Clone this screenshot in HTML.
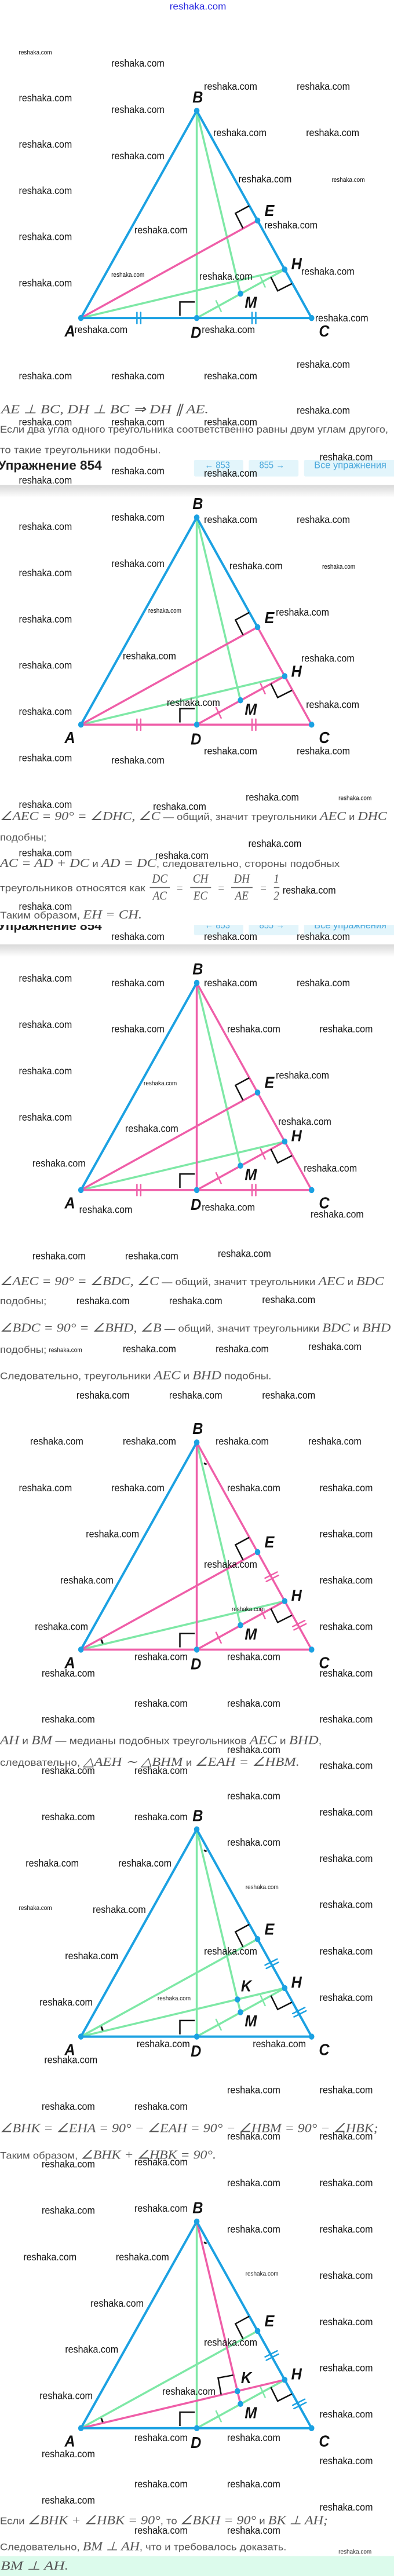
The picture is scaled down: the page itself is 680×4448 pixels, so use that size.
<!DOCTYPE html>
<html><head><meta charset="utf-8">
<style>
html,body{margin:0;padding:0;background:#fff;}
body{width:680px;height:4448px;position:relative;overflow:hidden;}
svg.b{position:absolute;left:0;width:680px;overflow:visible;}
line,polyline{vector-effect:non-scaling-stroke;}
.w{font-family:"Liberation Sans",sans-serif;font-size:37px;fill:#111;}
.ws{font-family:"Liberation Sans",sans-serif;font-size:23px;fill:#111;}
.t{font-family:"Liberation Sans",sans-serif;font-size:34px;fill:#555;}
.m{font-family:"Liberation Serif",serif;font-style:italic;font-size:44px;fill:#555;}
.mu{font-family:"Liberation Serif",serif;font-size:44px;fill:#555;}
.lb{font-family:"Liberation Sans",sans-serif;font-style:italic;font-weight:bold;font-size:58px;fill:#111;}
.bl{stroke:#1ba1e2;stroke-width:4;fill:none;stroke-linecap:round;}
.pk{stroke:#ef5ea8;stroke-width:3.5;fill:none;stroke-linecap:round;}
.gr{stroke:#7ee8a6;stroke-width:3.5;fill:none;stroke-linecap:round;}
.bk{stroke:#111;stroke-width:2.5;fill:none;}
.tk{stroke-width:2.5;}
.dot{fill:#1ba1e2;}
.nav{fill:#e3f5fb;}
.nt{font-family:"Liberation Sans",sans-serif;font-size:34px;fill:#4aa8dc;}
.h{font-family:"Liberation Sans",sans-serif;font-weight:bold;font-size:46px;fill:#222;}
</style></head><body>

<!-- BLOCK 0 : 0..750 -->
<svg class="b" style="top:0" height="750" viewBox="0 0 1568 1568" preserveAspectRatio="none">
<text x="675" y="35" font-family="Liberation Sans" font-size="34" fill="#2a2ae0" textLength="225" lengthAdjust="spacingAndGlyphs">reshaka.com</text>
<g transform="translate(0,400)">
 <line class="gr" x1="783" y1="0" x2="783" y2="748"/>
 <line class="gr" x1="783" y1="0" x2="957" y2="660"/>
 <line class="gr" x1="322" y1="748" x2="1133" y2="573"/>
 <line class="gr" x1="783" y1="748" x2="1133" y2="573"/>
 <line class="pk" x1="322" y1="748" x2="1025" y2="396"/>
 <line class="bl" x1="322" y1="748" x2="783" y2="0"/>
 <line class="bl" x1="783" y1="0" x2="1240" y2="748"/>
 <line class="bl" x1="322" y1="748" x2="1240" y2="748"/>
 <g class="bl tk"><line x1="545" y1="728" x2="545" y2="768"/><line x1="560" y1="728" x2="560" y2="768"/><line x1="1003" y1="728" x2="1003" y2="768"/><line x1="1018" y1="728" x2="1018" y2="768"/></g>
 <g class="gr tk"><line x1="860" y1="686" x2="880" y2="724"/><line x1="1037" y1="600" x2="1055" y2="636"/></g>
 <polyline class="bk" points="716,740 716,690 775,690"/>
 <polyline class="bk" points="992,343 937,370 967,424"/>
 <polyline class="bk" points="1078,600 1105,650 1162,624"/>
 <g class="dot"><circle cx="783" cy="0" r="11"/><circle cx="322" cy="748" r="11"/><circle cx="1240" cy="748" r="11"/><circle cx="783" cy="748" r="11"/><circle cx="1025" cy="396" r="11"/><circle cx="1133" cy="573" r="11"/><circle cx="957" cy="660" r="11"/></g>
 <g class="lb" dominant-baseline="central" text-anchor="middle"><text x="787" y="-50">B</text><text x="278" y="795">A</text><text x="780" y="800">D</text><text x="1290" y="795">C</text><text x="1072" y="360">E</text><text x="1180" y="552">H</text><text x="998" y="692">M</text></g>
</g>
<g dominant-baseline="central">
<text class="ws" x="75" y="190">reshaka.com</text><text class="w" x="443" y="228">reshaka.com</text><text class="w" x="812" y="312">reshaka.com</text><text class="w" x="1181" y="312">reshaka.com</text>
<text class="w" x="75" y="354">reshaka.com</text><text class="w" x="443" y="396">reshaka.com</text><text class="w" x="849" y="479">reshaka.com</text><text class="w" x="1218" y="479">reshaka.com</text>
<text class="w" x="75" y="521">reshaka.com</text><text class="w" x="443" y="563">reshaka.com</text><text class="w" x="949" y="646">reshaka.com</text><text class="ws" x="1320" y="650">reshaka.com</text>
<text class="w" x="75" y="688">reshaka.com</text><text class="w" x="535" y="830">reshaka.com</text><text class="w" x="1052" y="813">reshaka.com</text><text class="w" x="75" y="855">reshaka.com</text>
<text class="ws" x="443" y="993">reshaka.com</text><text class="w" x="793" y="998">reshaka.com</text><text class="w" x="1199" y="980">reshaka.com</text><text class="w" x="75" y="1022">reshaka.com</text>
<text class="w" x="1254" y="1148">reshaka.com</text><text class="w" x="296" y="1190">reshaka.com</text><text class="w" x="803" y="1190">reshaka.com</text><text class="w" x="1181" y="1316">reshaka.com</text>
<text class="w" x="75" y="1357">reshaka.com</text><text class="w" x="443" y="1357">reshaka.com</text><text class="w" x="812" y="1357">reshaka.com</text><text class="w" x="1181" y="1482">reshaka.com</text>
<text class="w" x="75" y="1524">reshaka.com</text><text class="w" x="443" y="1524">reshaka.com</text><text class="w" x="812" y="1524">reshaka.com</text>
</g>
<text class="m" x="5" y="1492" textLength="825" lengthAdjust="spacingAndGlyphs">AE <tspan class="mu">⊥</tspan> BC, DH <tspan class="mu">⊥</tspan> BC <tspan class="mu">⇒</tspan> DH <tspan class="mu">∥</tspan> AE.</text>
<text class="t" x="0" y="1562" textLength="1545" lengthAdjust="spacingAndGlyphs">Если два угла одного треугольника соответственно равны двум углам другого,</text>
</svg>

<!-- BLOCK 1 : 750..1500 -->
<svg class="b" style="top:750px" height="750" viewBox="0 0 1568 1568" preserveAspectRatio="none">
<defs><linearGradient id="sh" x1="0" y1="0" x2="0" y2="1"><stop offset="0" stop-color="#d8d8d8"/><stop offset="1" stop-color="#fff"/></linearGradient></defs>
<text class="t" x="0" y="68" textLength="640" lengthAdjust="spacingAndGlyphs">то такие треугольники подобны.</text>
<text class="h" x="-8" y="128" textLength="413" lengthAdjust="spacingAndGlyphs">Упражнение 854</text>
<rect class="nav" x="772" y="92" width="196" height="60" rx="6"/><rect class="nav" x="990" y="92" width="198" height="60" rx="6"/><rect class="nav" x="1210" y="92" width="370" height="60" rx="6"/>
<text class="nt" x="815" y="122">← 853</text><text class="nt" x="1032" y="122">855 →</text><text class="nt" x="1250" y="122" textLength="288" lengthAdjust="spacingAndGlyphs">Все упражнения</text>
<rect x="0" y="183" width="1568" height="45" fill="url(#sh)"/>
<g transform="translate(0,300)">
 <line class="gr" x1="783" y1="0" x2="783" y2="748"/>
 <line class="gr" x1="783" y1="0" x2="957" y2="660"/>
 <line class="gr" x1="322" y1="748" x2="1133" y2="573"/>
 <line class="pk" x1="783" y1="748" x2="1133" y2="573"/>
 <line class="pk" x1="322" y1="748" x2="1025" y2="396"/>
 <line class="pk" x1="1025" y1="396" x2="1240" y2="748"/>
 <line class="pk" x1="322" y1="748" x2="1240" y2="748"/>
 <line class="bl" x1="322" y1="748" x2="783" y2="0"/>
 <line class="bl" x1="783" y1="0" x2="1025" y2="396"/>
 <g class="pk tk"><line x1="545" y1="728" x2="545" y2="768"/><line x1="560" y1="728" x2="560" y2="768"/><line x1="1003" y1="728" x2="1003" y2="768"/><line x1="1018" y1="728" x2="1018" y2="768"/><line x1="860" y1="686" x2="880" y2="724"/><line x1="1037" y1="600" x2="1055" y2="636"/></g>
 <polyline class="bk" points="716,740 716,690 775,690"/>
 <polyline class="bk" points="992,343 937,370 967,424"/>
 <polyline class="bk" points="1078,600 1105,650 1162,624"/>
 <g class="dot"><circle cx="783" cy="0" r="11"/><circle cx="322" cy="748" r="11"/><circle cx="1240" cy="748" r="11"/><circle cx="783" cy="748" r="11"/><circle cx="1025" cy="396" r="11"/><circle cx="1133" cy="573" r="11"/><circle cx="957" cy="660" r="11"/></g>
 <g class="lb" dominant-baseline="central" text-anchor="middle"><text x="787" y="-50">B</text><text x="278" y="795">A</text><text x="780" y="800">D</text><text x="1290" y="795">C</text><text x="1072" y="362">E</text><text x="1180" y="555">H</text><text x="998" y="692">M</text></g>
</g>
<g dominant-baseline="central">
<text class="w" x="1272" y="82">reshaka.com</text><text class="w" x="443" y="132">reshaka.com</text><text class="w" x="812" y="141">reshaka.com</text><text class="w" x="75" y="166">reshaka.com</text>
<text class="w" x="443" y="300">reshaka.com</text><text class="w" x="812" y="308">reshaka.com</text><text class="w" x="1181" y="308">reshaka.com</text><text class="w" x="75" y="333">reshaka.com</text>
<text class="w" x="443" y="467">reshaka.com</text><text class="w" x="913" y="475">reshaka.com</text><text class="ws" x="1282" y="479">reshaka.com</text><text class="w" x="75" y="500">reshaka.com</text>
<text class="ws" x="590" y="637">reshaka.com</text><text class="w" x="1098" y="642">reshaka.com</text><text class="w" x="75" y="667">reshaka.com</text><text class="w" x="489" y="800">reshaka.com</text>
<text class="w" x="1199" y="809">reshaka.com</text><text class="w" x="75" y="834">reshaka.com</text><text class="w" x="664" y="968">reshaka.com</text><text class="w" x="1218" y="976">reshaka.com</text>
<text class="w" x="75" y="1001">reshaka.com</text><text class="w" x="812" y="1143">reshaka.com</text><text class="w" x="1181" y="1143">reshaka.com</text><text class="w" x="75" y="1168">reshaka.com</text>
<text class="w" x="443" y="1177">reshaka.com</text><text class="w" x="978" y="1310">reshaka.com</text><text class="ws" x="1347" y="1314">reshaka.com</text><text class="w" x="75" y="1336">reshaka.com</text>
<text class="w" x="609" y="1344">reshaka.com</text><text class="w" x="988" y="1478">reshaka.com</text><text class="w" x="75" y="1511">reshaka.com</text><text class="w" x="618" y="1520">reshaka.com</text>
</g>
<text class="t" x="0" y="1392" textLength="1540" lengthAdjust="spacingAndGlyphs"><tspan class="m">∠AEC = 90° = ∠DHC, ∠C</tspan> — общий, значит треугольники <tspan class="m">AEC</tspan> и <tspan class="m">DHC</tspan></text>
<text class="t" x="0" y="1467" textLength="185" lengthAdjust="spacingAndGlyphs">подобны;</text>
<text class="t" x="0" y="1562" textLength="1352" lengthAdjust="spacingAndGlyphs"><tspan class="m">AC = AD + DC</tspan> и <tspan class="m">AD = DC</tspan>, следовательно, стороны подобных</text>
</svg>

<!-- BLOCK 2 : 1500..2250 -->
<svg class="b" style="top:1500px" height="750" viewBox="0 0 1568 1568" preserveAspectRatio="none">
<defs><clipPath id="cp"><rect x="0" y="203" width="1568" height="40"/></clipPath><linearGradient id="sh2" x1="0" y1="0" x2="0" y2="1"><stop offset="0" stop-color="#d8d8d8"/><stop offset="1" stop-color="#fff"/></linearGradient></defs>
<text class="t" x="0" y="82" textLength="578" lengthAdjust="spacingAndGlyphs">треугольников относятся как</text>
<g class="m" text-anchor="middle"><text x="636" y="50">DC</text><text x="636" y="112">AC</text><text x="798" y="50">CH</text><text x="798" y="112">EC</text><text x="962" y="50">DH</text><text x="962" y="112">AE</text><text class="mu" x="1100" y="50">1</text><text class="mu" x="1100" y="112">2</text>
<text class="mu" x="715" y="85">=</text><text class="mu" x="880" y="85">=</text><text class="mu" x="1048" y="85">=</text></g>
<g stroke="#666" stroke-width="1.5"><line x1="596" y1="68" x2="676" y2="68"/><line x1="757" y1="68" x2="840" y2="68"/><line x1="920" y1="68" x2="1005" y2="68"/><line x1="1090" y1="68" x2="1112" y2="68"/></g>
<text class="t" x="0" y="180" textLength="565" lengthAdjust="spacingAndGlyphs">Таким образом, <tspan class="m">EH = CH.</tspan></text>
<g clip-path="url(#cp)">
<text class="h" x="-8" y="222" textLength="413" lengthAdjust="spacingAndGlyphs">Упражнение 854</text>
<rect class="nav" x="772" y="180" width="196" height="60" rx="6"/><rect class="nav" x="990" y="180" width="198" height="60" rx="6"/><rect class="nav" x="1210" y="180" width="370" height="60" rx="6"/>
<text class="nt" x="815" y="215">← 853</text><text class="nt" x="1032" y="215">855 →</text><text class="nt" x="1250" y="215" textLength="288" lengthAdjust="spacingAndGlyphs">Все упражнения</text>
</g>
<rect x="0" y="273" width="1568" height="45" fill="url(#sh2)"/>
<g transform="translate(0,412)">
 <line class="gr" x1="783" y1="0" x2="957" y2="660"/>
 <line class="gr" x1="322" y1="748" x2="1133" y2="573"/>
 <line class="pk" x1="783" y1="0" x2="783" y2="748"/>
 <line class="pk" x1="783" y1="748" x2="1133" y2="573"/>
 <line class="pk" x1="322" y1="748" x2="1025" y2="396"/>
 <line class="pk" x1="783" y1="0" x2="1240" y2="748"/>
 <line class="pk" x1="322" y1="748" x2="1240" y2="748"/>
 <line class="bl" x1="322" y1="748" x2="783" y2="0"/>
 <g class="pk tk"><line x1="545" y1="728" x2="545" y2="768"/><line x1="560" y1="728" x2="560" y2="768"/><line x1="1003" y1="728" x2="1003" y2="768"/><line x1="1018" y1="728" x2="1018" y2="768"/><line x1="860" y1="686" x2="880" y2="724"/><line x1="1037" y1="600" x2="1055" y2="636"/></g>
 <polyline class="bk" points="716,740 716,690 775,690"/>
 <polyline class="bk" points="992,343 937,370 967,424"/>
 <polyline class="bk" points="1078,600 1105,650 1162,624"/>
 <g class="dot"><circle cx="783" cy="0" r="11"/><circle cx="322" cy="748" r="11"/><circle cx="1240" cy="748" r="11"/><circle cx="783" cy="748" r="11"/><circle cx="1025" cy="396" r="11"/><circle cx="1133" cy="573" r="11"/><circle cx="957" cy="660" r="11"/></g>
 <g class="lb" dominant-baseline="central" text-anchor="middle"><text x="787" y="-50">B</text><text x="278" y="795">A</text><text x="780" y="800">D</text><text x="1290" y="795">C</text><text x="1072" y="360">E</text><text x="1180" y="552">H</text><text x="998" y="692">M</text></g>
</g>
<g dominant-baseline="central">
<text class="w" x="1125" y="78">reshaka.com</text><text class="w" x="75" y="136">reshaka.com</text><text class="w" x="443" y="245">reshaka.com</text><text class="w" x="812" y="245">reshaka.com</text>
<text class="w" x="1181" y="245">reshaka.com</text><text class="w" x="75" y="396">reshaka.com</text><text class="w" x="443" y="412">reshaka.com</text><text class="w" x="812" y="412">reshaka.com</text>
<text class="w" x="1181" y="412">reshaka.com</text><text class="w" x="75" y="563">reshaka.com</text><text class="w" x="443" y="579">reshaka.com</text><text class="w" x="904" y="579">reshaka.com</text>
<text class="w" x="1272" y="579">reshaka.com</text><text class="w" x="75" y="730">reshaka.com</text><text class="ws" x="572" y="775">reshaka.com</text><text class="w" x="1098" y="746">reshaka.com</text>
<text class="w" x="75" y="897">reshaka.com</text><text class="w" x="498" y="938">reshaka.com</text><text class="w" x="1107" y="913">reshaka.com</text><text class="w" x="129" y="1064">reshaka.com</text>
<text class="w" x="1209" y="1081">reshaka.com</text><text class="w" x="315" y="1231">reshaka.com</text><text class="w" x="803" y="1222">reshaka.com</text><text class="w" x="1236" y="1248">reshaka.com</text>
<text class="w" x="129" y="1398">reshaka.com</text><text class="w" x="498" y="1398">reshaka.com</text><text class="w" x="867" y="1390">reshaka.com</text>
<text class="w" x="304" y="1560">reshaka.com</text><text class="w" x="673" y="1560">reshaka.com</text><text class="w" x="1043" y="1556">reshaka.com</text>
</g>
<text class="t" x="0" y="1503" textLength="1528" lengthAdjust="spacingAndGlyphs"><tspan class="m">∠AEC = 90° = ∠BDC, ∠C</tspan> — общий, значит треугольники <tspan class="m">AEC</tspan> и <tspan class="m">BDC</tspan></text>
<text class="t" x="0" y="1572" textLength="185" lengthAdjust="spacingAndGlyphs">подобны;</text>
</svg>

<!-- BLOCK 3 : 2250..3000 -->
<svg class="b" style="top:2250px" height="750" viewBox="0 0 1568 1568" preserveAspectRatio="none">
<text class="t" x="0" y="104" textLength="1555" lengthAdjust="spacingAndGlyphs"><tspan class="m">∠BDC = 90° = ∠BHD, ∠B</tspan> — общий, значит треугольники <tspan class="m">BDC</tspan> и <tspan class="m">BHD</tspan></text>
<text class="t" x="0" y="180" textLength="185" lengthAdjust="spacingAndGlyphs">подобны;</text>
<text class="t" x="0" y="275" textLength="1080" lengthAdjust="spacingAndGlyphs">Следовательно, треугольники <tspan class="m">AEC</tspan> и <tspan class="m">BHD</tspan> подобны.</text>
<g transform="translate(0,503)">
 <line class="gr" x1="783" y1="0" x2="957" y2="660"/>
 <line class="gr" x1="322" y1="748" x2="1133" y2="573"/>
 <line class="pk" x1="783" y1="0" x2="783" y2="748"/>
 <line class="pk" x1="783" y1="748" x2="1133" y2="573"/>
 <line class="pk" x1="322" y1="748" x2="1025" y2="396"/>
 <line class="pk" x1="783" y1="0" x2="1240" y2="748"/>
 <line class="pk" x1="322" y1="748" x2="1240" y2="748"/>
 <line class="bl" x1="322" y1="748" x2="783" y2="0"/>
 <g class="pk tk"><line x1="860" y1="686" x2="880" y2="724"/><line x1="1037" y1="600" x2="1055" y2="636"/>
 <line x1="1055" y1="490" x2="1103" y2="468"/><line x1="1060" y1="502" x2="1108" y2="480"/><line x1="1165" y1="665" x2="1213" y2="643"/><line x1="1170" y1="677" x2="1218" y2="655"/></g>
 <polyline class="bk" points="716,740 716,690 775,690"/>
 <polyline class="bk" points="992,343 937,370 967,424"/>
 <polyline class="bk" points="1078,600 1105,650 1162,624"/>
 <g stroke="#111" stroke-width="3"><line x1="403" y1="712" x2="409" y2="726"/><line x1="812" y1="75" x2="822" y2="80"/></g>
 <g class="dot"><circle cx="783" cy="0" r="11"/><circle cx="322" cy="748" r="11"/><circle cx="1240" cy="748" r="11"/><circle cx="783" cy="748" r="11"/><circle cx="1025" cy="396" r="11"/><circle cx="1133" cy="573" r="11"/><circle cx="957" cy="660" r="11"/></g>
 <g class="lb" dominant-baseline="central" text-anchor="middle"><text x="787" y="-50">B</text><text x="278" y="795">A</text><text x="780" y="800">D</text><text x="1290" y="795">C</text><text x="1072" y="360">E</text><text x="1180" y="552">H</text><text x="998" y="692">M</text></g>
</g>
<g dominant-baseline="central">
<text class="ws" x="195" y="170">reshaka.com</text><text class="w" x="489" y="166">reshaka.com</text><text class="w" x="858" y="166">reshaka.com</text><text class="w" x="1227" y="157">reshaka.com</text>
<text class="w" x="304" y="333">reshaka.com</text><text class="w" x="673" y="333">reshaka.com</text><text class="w" x="1043" y="333">reshaka.com</text><text class="w" x="120" y="499">reshaka.com</text>
<text class="w" x="489" y="499">reshaka.com</text><text class="w" x="858" y="499">reshaka.com</text><text class="w" x="1227" y="499">reshaka.com</text><text class="w" x="75" y="667">reshaka.com</text>
<text class="w" x="443" y="667">reshaka.com</text><text class="w" x="904" y="667">reshaka.com</text><text class="w" x="1272" y="667">reshaka.com</text><text class="w" x="342" y="834">reshaka.com</text>
<text class="w" x="1272" y="834">reshaka.com</text><text class="w" x="812" y="943">reshaka.com</text><text class="w" x="240" y="1001">reshaka.com</text><text class="w" x="1272" y="1001">reshaka.com</text>
<text class="ws" x="922" y="1106">reshaka.com</text><text class="w" x="139" y="1168">reshaka.com</text><text class="w" x="1272" y="1168">reshaka.com</text><text class="w" x="535" y="1277">reshaka.com</text>
<text class="w" x="904" y="1277">reshaka.com</text><text class="w" x="166" y="1336">reshaka.com</text><text class="w" x="1272" y="1336">reshaka.com</text><text class="w" x="535" y="1445">reshaka.com</text>
<text class="w" x="904" y="1445">reshaka.com</text><text class="w" x="166" y="1503">reshaka.com</text><text class="w" x="1272" y="1503">reshaka.com</text>
</g>
</svg>

<!-- BLOCK 4 : 3000..3700 -->
<svg class="b" style="top:3000px" height="750" viewBox="0 0 1568 1568" preserveAspectRatio="none">
<text class="t" x="0" y="24" textLength="1280" lengthAdjust="spacingAndGlyphs"><tspan class="m">AH</tspan> и <tspan class="m">BM</tspan> — медианы подобных треугольников <tspan class="m">AEC</tspan> и <tspan class="m">BHD</tspan>,</text>
<text class="t" x="0" y="102" textLength="1192" lengthAdjust="spacingAndGlyphs">следовательно, <tspan class="m">△AEH ∼ △BHM</tspan> и <tspan class="m">∠EAH = ∠HBM.</tspan></text>
<g transform="translate(0,332)">
 <line class="gr" x1="783" y1="0" x2="783" y2="748"/>
 <line class="gr" x1="783" y1="0" x2="957" y2="660"/>
 <line class="gr" x1="322" y1="748" x2="1133" y2="573"/>
 <line class="gr" x1="783" y1="748" x2="1133" y2="573"/>
 <line class="gr" x1="322" y1="748" x2="1025" y2="396"/>
 <line class="bl" x1="322" y1="748" x2="783" y2="0"/>
 <line class="bl" x1="783" y1="0" x2="1240" y2="748"/>
 <line class="bl" x1="322" y1="748" x2="1240" y2="748"/>
 <g class="gr tk"><line x1="860" y1="686" x2="880" y2="724"/><line x1="1037" y1="600" x2="1055" y2="636"/></g>
 <g class="bl tk"><line x1="1055" y1="490" x2="1103" y2="468"/><line x1="1060" y1="502" x2="1108" y2="480"/><line x1="1165" y1="665" x2="1213" y2="643"/><line x1="1170" y1="677" x2="1218" y2="655"/></g>
 <polyline class="bk" points="716,740 716,690 775,690"/>
 <polyline class="bk" points="992,343 937,370 967,424"/>
 <polyline class="bk" points="1078,600 1105,650 1162,624"/>
 <g stroke="#111" stroke-width="3"><line x1="403" y1="712" x2="409" y2="726"/><line x1="812" y1="75" x2="822" y2="80"/></g>
 <g class="dot"><circle cx="783" cy="0" r="11"/><circle cx="322" cy="748" r="11"/><circle cx="1240" cy="748" r="11"/><circle cx="783" cy="748" r="11"/><circle cx="1025" cy="396" r="11"/><circle cx="1133" cy="573" r="11"/><circle cx="957" cy="660" r="11"/><circle cx="945" cy="614" r="11"/></g>
 <g class="lb" dominant-baseline="central" text-anchor="middle"><text x="787" y="-50">B</text><text x="278" y="795">A</text><text x="780" y="800">D</text><text x="1290" y="795">C</text><text x="1072" y="360">E</text><text x="1180" y="552">H</text><text x="998" y="692">M</text><text x="980" y="565">K</text></g>
</g>
<g dominant-baseline="central">
<text class="w" x="904" y="44">reshaka.com</text><text class="w" x="1272" y="102">reshaka.com</text><text class="w" x="166" y="120">reshaka.com</text><text class="w" x="535" y="120">reshaka.com</text>
<text class="w" x="904" y="212">reshaka.com</text><text class="w" x="166" y="287">reshaka.com</text><text class="w" x="535" y="287">reshaka.com</text><text class="w" x="1272" y="270">reshaka.com</text>
<text class="w" x="904" y="379">reshaka.com</text><text class="w" x="102" y="454">reshaka.com</text><text class="w" x="471" y="454">reshaka.com</text><text class="w" x="1272" y="437">reshaka.com</text>
<text class="ws" x="977" y="541">reshaka.com</text><text class="ws" x="75" y="617">reshaka.com</text><text class="w" x="369" y="621">reshaka.com</text><text class="w" x="1272" y="604">reshaka.com</text>
<text class="w" x="259" y="789">reshaka.com</text><text class="w" x="812" y="772">reshaka.com</text><text class="w" x="1272" y="772">reshaka.com</text><text class="ws" x="627" y="943">reshaka.com</text>
<text class="w" x="157" y="956">reshaka.com</text><text class="w" x="1272" y="939">reshaka.com</text><text class="w" x="544" y="1106">reshaka.com</text><text class="w" x="1006" y="1106">reshaka.com</text>
<text class="w" x="176" y="1164">reshaka.com</text><text class="w" x="904" y="1273">reshaka.com</text><text class="w" x="1272" y="1273">reshaka.com</text><text class="w" x="166" y="1332">reshaka.com</text>
<text class="w" x="535" y="1332">reshaka.com</text><text class="w" x="904" y="1440">reshaka.com</text><text class="w" x="1272" y="1440">reshaka.com</text>
</g>
<text class="t" x="0" y="1425" textLength="1505" lengthAdjust="spacingAndGlyphs"><tspan class="m">∠BHK = ∠EHA = 90° − ∠EAH = 90° − ∠HBM = 90° − ∠HBK;</tspan></text>
</svg>

<!-- BLOCK 5 : 3700..4448 -->
<svg class="b" style="top:3700px" height="748" viewBox="0 0 1568 1568" preserveAspectRatio="none">
<rect x="0" y="1496" width="1568" height="80" fill="#dcfbec"/>
<text class="t" x="0" y="58" textLength="860" lengthAdjust="spacingAndGlyphs">Таким образом, <tspan class="m">∠BHK + ∠HBK = 90°.</tspan></text>
<g transform="translate(0,285)">
 <line class="gr" x1="783" y1="0" x2="783" y2="748"/>
 <line class="gr" x1="783" y1="748" x2="1133" y2="573"/>
 <line class="gr" x1="322" y1="748" x2="1025" y2="396"/>
 <line class="pk" x1="783" y1="0" x2="957" y2="660"/>
 <line class="pk" x1="322" y1="748" x2="1133" y2="573"/>
 <line class="bl" x1="322" y1="748" x2="783" y2="0"/>
 <line class="bl" x1="783" y1="0" x2="1240" y2="748"/>
 <line class="bl" x1="322" y1="748" x2="1240" y2="748"/>
 <g class="gr tk"><line x1="860" y1="686" x2="880" y2="724"/><line x1="1037" y1="600" x2="1055" y2="636"/></g>
 <g class="bl tk"><line x1="1055" y1="490" x2="1103" y2="468"/><line x1="1060" y1="502" x2="1108" y2="480"/><line x1="1165" y1="665" x2="1213" y2="643"/><line x1="1170" y1="677" x2="1218" y2="655"/></g>
 <polyline class="bk" points="716,740 716,690 775,690"/>
 <polyline class="bk" points="992,343 937,370 967,424"/>
 <polyline class="bk" points="1078,600 1105,650 1162,624"/>
 <polyline class="bk" points="928,556 868,566 880,626"/>
 <g stroke="#111" stroke-width="3"><line x1="403" y1="712" x2="409" y2="726"/><line x1="812" y1="75" x2="822" y2="80"/></g>
 <g class="dot"><circle cx="783" cy="0" r="11"/><circle cx="322" cy="748" r="11"/><circle cx="1240" cy="748" r="11"/><circle cx="783" cy="748" r="11"/><circle cx="1025" cy="396" r="11"/><circle cx="1133" cy="573" r="11"/><circle cx="957" cy="660" r="11"/><circle cx="945" cy="614" r="11"/></g>
 <g class="lb" dominant-baseline="central" text-anchor="middle"><text x="787" y="-50">B</text><text x="278" y="795">A</text><text x="780" y="800">D</text><text x="1290" y="795">C</text><text x="1072" y="360">E</text><text x="1180" y="552">H</text><text x="998" y="692">M</text><text x="980" y="565">K</text></g>
</g>
<g dominant-baseline="central">
<text class="w" x="166" y="77">reshaka.com</text><text class="w" x="535" y="70">reshaka.com</text>
<text class="w" x="904" y="145">reshaka.com</text><text class="w" x="1272" y="145">reshaka.com</text><text class="w" x="166" y="245">reshaka.com</text><text class="w" x="535" y="237">reshaka.com</text>
<text class="w" x="904" y="313">reshaka.com</text><text class="w" x="1272" y="313">reshaka.com</text><text class="w" x="93" y="413">reshaka.com</text><text class="w" x="461" y="413">reshaka.com</text>
<text class="ws" x="977" y="476">reshaka.com</text><text class="w" x="1272" y="481">reshaka.com</text><text class="w" x="360" y="581">reshaka.com</text><text class="w" x="1272" y="648">reshaka.com</text>
<text class="w" x="259" y="748">reshaka.com</text><text class="w" x="812" y="723">reshaka.com</text><text class="w" x="1272" y="815">reshaka.com</text><text class="w" x="646" y="900">reshaka.com</text>
<text class="w" x="157" y="916">reshaka.com</text><text class="w" x="1272" y="983">reshaka.com</text><text class="w" x="535" y="1068">reshaka.com</text><text class="w" x="904" y="1068">reshaka.com</text>
<text class="w" x="166" y="1126">reshaka.com</text><text class="w" x="1272" y="1151">reshaka.com</text><text class="w" x="535" y="1235">reshaka.com</text><text class="w" x="904" y="1235">reshaka.com</text>
<text class="w" x="166" y="1294">reshaka.com</text><text class="w" x="1272" y="1319">reshaka.com</text><text class="w" x="535" y="1403">reshaka.com</text><text class="w" x="904" y="1403">reshaka.com</text>
<text class="ws" x="1347" y="1482">reshaka.com</text>
</g>
<text class="t" x="0" y="1380" textLength="1305" lengthAdjust="spacingAndGlyphs">Если <tspan class="m">∠BHK + ∠HBK = 90°</tspan>, то <tspan class="m">∠BKH = 90°</tspan> и <tspan class="m">BK ⊥ AH;</tspan></text>
<text class="t" x="0" y="1475" textLength="1140" lengthAdjust="spacingAndGlyphs">Следовательно, <tspan class="m">BM ⊥ AH</tspan>, что и требовалось доказать.</text>
<text class="m" x="3" y="1545" textLength="270" lengthAdjust="spacingAndGlyphs">BM ⊥ AH.</text>
</svg>

</body></html>
